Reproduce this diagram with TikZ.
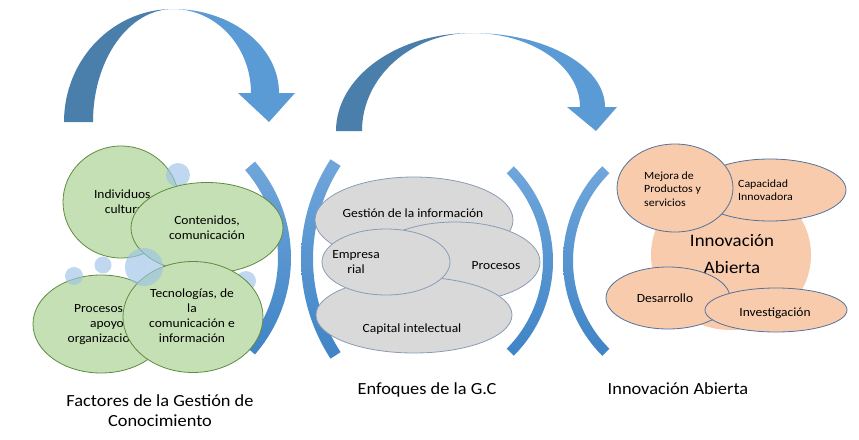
\documentclass[tikz,border=0pt]{standalone}
\usepackage{fontspec}
\setmainfont{Carlito}[FakeStretch=1.08]
\usetikzlibrary{shapes.geometric}
\definecolor{greenfill}{HTML}{C5E0B4}
\definecolor{greenedge}{HTML}{5E8C3E}
\definecolor{greyfill}{HTML}{D9D9D9}
\definecolor{greyedge}{HTML}{8A9CB5}
\definecolor{orangefill}{HTML}{F8CBAD}
\definecolor{orangeedge}{HTML}{52739A}
\definecolor{bubblecol}{HTML}{9DC3E6}
\definecolor{arrowdark}{HTML}{4A7EAB}
\definecolor{arrowlight}{HTML}{5B9BD5}
\definecolor{brktop}{HTML}{70A6DB}
\definecolor{brkbot}{HTML}{3F84C6}
\begin{document}
\begin{tikzpicture}[x=1pt,y=-1pt,
  gell/.style={ellipse, draw=greenedge, fill=greenfill, line width=0.8pt, inner sep=0pt},
  grell/.style={ellipse, draw=greyedge, fill=greyfill, line width=0.8pt, inner sep=0pt},
  orell/.style={ellipse, draw=orangeedge, fill=orangefill, line width=0.8pt, inner sep=0pt},
  bigell/.style={ellipse, fill=orangefill, inner sep=0pt},
  bub/.style={circle, fill=bubblecol, fill opacity=0.65, inner sep=0pt},
  txt/.style={align=center, font=\fontsize{12.5}{15}\selectfont, inner sep=0pt},
  smalltxt/.style={align=left, anchor=west, font=\fontsize{11}{13.5}\selectfont, inner sep=0pt},
  lbl/.style={align=center, font=\fontsize{17}{20}\selectfont, inner sep=0pt},
  brk/.style={top color=brktop, bottom color=brkbot},
  darkband/.style={fill=arrowdark},
  lightband/.style={fill=arrowlight}]
\useasboundingbox (0,0) rectangle (859,439);

% curved arrows
\fill[darkband] (64,122) .. controls (64,59.6) and (112.8,9) .. (173,9)
  .. controls (128.8,9) and (93,59.6) .. (93,122) -- cycle;
\fill[lightband] (173,9) .. controls (231.5,9) and (279,46.6) .. (279,93)
  -- (295,93) -- (269,122) -- (238,93) -- (251,93)
  .. controls (251,46.6) and (216.1,9) .. (173,9) -- cycle;
\fill[darkband] (336,131) .. controls (336,76.9) and (396.9,33) .. (472,33)
  .. controls (411.2,33) and (362,76.9) .. (362,131) -- cycle;
\fill[lightband] (472,33) .. controls (545.5,33) and (605,66.1) .. (605,107)
  -- (617,107) -- (596,131) -- (567,107) -- (580,107)
  .. controls (580,66.1) and (531.6,33) .. (472,33) -- cycle;

% brackets
\shade[brk] plot[domain=-41:41, samples=40] ({144+147*cos(\x)},{258+147*sin(\x)})
  -- plot[domain=41:-41, samples=40] ({144+134*cos(\x)},{258+134*sin(\x)}) -- cycle;
\shade[brk] plot[domain=147:213, samples=40] ({484+183*cos(\x)},{259+183*sin(\x)})
  -- plot[domain=213:147, samples=40] ({484+171*cos(\x)},{259+171*sin(\x)}) -- cycle;
\shade[brk] plot[domain=-45:45, samples=40] ({419+134*cos(\x)},{261+134*sin(\x)})
  -- plot[domain=45:-45, samples=40] ({419+124*cos(\x)},{261+124*sin(\x)}) -- cycle;
\shade[brk] plot[domain=135:225, samples=40] ({697+134*cos(\x)},{261+134*sin(\x)})
  -- plot[domain=225:135, samples=40] ({697+124*cos(\x)},{261+124*sin(\x)}) -- cycle;

% left group
\node[gell, minimum width=116pt, minimum height=112pt] (ind) at (121,202) {};
\node[txt] (tind) at (124,202) {Individuos,\\cultura};
\node[bub, minimum size=24pt] (b1) at (178,175) {};
\node[bub, minimum size=20pt] (b5) at (246,281) {};
\node[gell, minimum width=152pt, minimum height=91pt] (con) at (207,228) {};
\node[txt] (tcon) at (207,228) {Contenidos,\\comunicación};
\node[gell, minimum width=136pt, minimum height=98pt] (pro) at (101,324) {};
\node[txt] (tpro) at (107,324) {Procesos de\\apoyo\\organizacional};
\node[gell, minimum width=140pt, minimum height=111pt] (tec) at (193,317) {};
\node[txt] (ttec) at (192,316) {Tecnologías, de\\la\\comunicación e\\información};
\node[bub, minimum size=38pt] (b2) at (144,267) {};
\node[bub, minimum size=17pt] (b3) at (103,265) {};
\node[bub, minimum size=18pt] (b4) at (74,276) {};

% middle group
\node[grell, minimum width=198pt, minimum height=86pt] (ges) at (414,220) {};
\node[txt] (tges) at (413,213) {Gestión de la información};
\node[grell, minimum width=170pt, minimum height=80pt] (prc) at (455,262) {};
\node[txt] (tprc) at (496,266) {Procesos};
\node[grell, minimum width=196pt, minimum height=76pt] (cap) at (414,315) {};
\node[txt] (tcap) at (412,329) {Capital intelectual};
\node[grell, minimum width=128pt, minimum height=66pt] (emp) at (386,262) {};
\node[txt] (temp) at (356,262) {Empresa\\rial};

% right group
\node[bigell, minimum width=160pt, minimum height=150pt] (ia) at (731,255) {};
\node[txt, font=\fontsize{17.5}{27}\selectfont] (tia) at (732,254) {Innovación\\Abierta};
\node[orell, minimum width=152pt, minimum height=62pt] (cpi) at (770,190) {};
\node[smalltxt] (tcpi) at (738,190) {Capacidad\\Innovadora};
\node[orell, minimum width=116pt, minimum height=88pt] (mej) at (675,188) {};
\node[smalltxt] (tmej) at (644,189) {Mejora de\\Productos y\\servicios};
\node[orell, minimum width=124pt, minimum height=62pt] (des) at (668,298) {};
\node[txt] (tdes) at (665,298) {Desarrollo};
\node[orell, minimum width=142pt, minimum height=44pt] (inv) at (776,310) {};
\node[txt] (tinv) at (775,313) {Investigación};

% labels
\node[lbl] (l1) at (160,411) {Factores de la Gestión de\\Conocimiento};
\node[lbl, anchor=base] (l2) at (427,394) {Enfoques de la G.C};
\node[lbl, anchor=base] (l3) at (678,394) {Innovación Abierta};
\end{tikzpicture}
\end{document}
